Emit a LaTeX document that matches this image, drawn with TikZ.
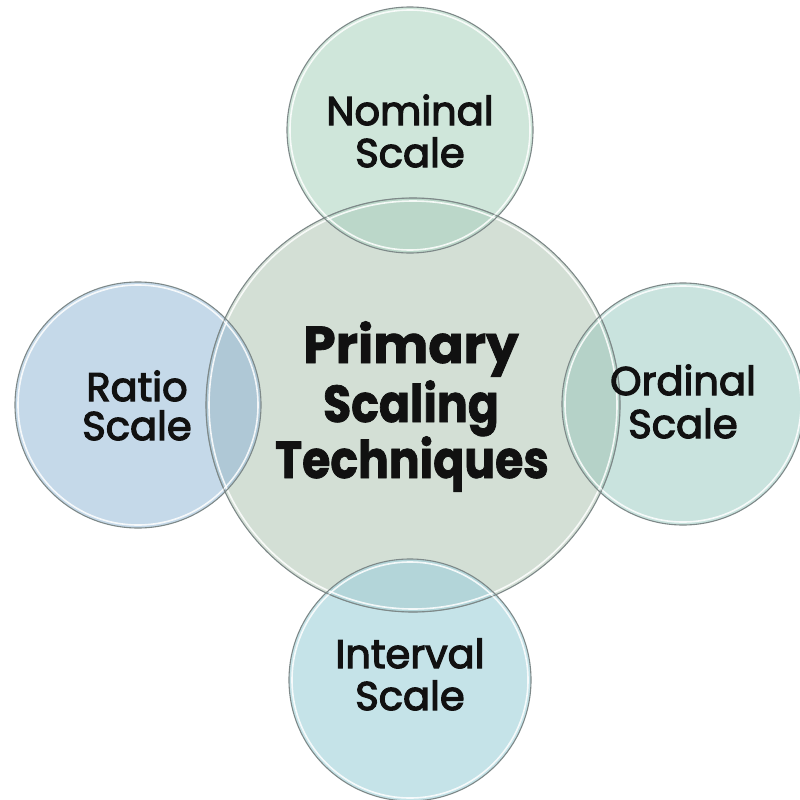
\documentclass[tikz,border=0pt]{standalone}
\usepackage{fontspec}
\setmainfont{Poppins}
\newfontfamily\satfont[FakeBold=3]{Poppins}
\newfontfamily\corefont[FakeBold=1.5]{Poppins Bold}
\definecolor{corefill}{HTML}{D3DFD5}
\definecolor{nomfill}{HTML}{CFE6DA}
\definecolor{nomover}{HTML}{BBD7C9}
\definecolor{ratfill}{HTML}{C5D9E9}
\definecolor{ratover}{HTML}{AFC8D6}
\definecolor{ordfill}{HTML}{C9E3DE}
\definecolor{ordover}{HTML}{B5D2C8}
\definecolor{intfill}{HTML}{C5E3E8}
\definecolor{intover}{HTML}{B3D5D9}
\definecolor{rimgray}{HTML}{7E8989}
\definecolor{txt}{HTML}{111111}
\newcommand{\narrow}[1]{\scalebox{0.88}[1]{#1}}
\begin{document}
\begin{tikzpicture}[x=1pt,y=-1pt,
  disc/.style={circle,inner sep=0pt,outer sep=0pt,minimum size=#1},
  rim/.style={draw=rimgray,line width=1.1pt},
  gloss/.style={draw=white,line width=1.6pt,opacity=0.85},
  lbl/.style={text=txt,anchor=base,inner sep=0pt,font=\satfont\fontsize{40}{42}\selectfont},
  biglbl/.style={text=txt,anchor=base,inner sep=0pt,font=\corefont\fontsize{52}{58}\selectfont}]
\useasboundingbox (0,0) rectangle (800,800);
\fill[white] (0,0) rectangle (800,800);
% central disc
\node[disc=414pt,fill=corefill] (core) at (413,405) {};
% satellites
\node[disc=246pt,fill=nomfill] (nom) at (410,130) {};
\node[disc=246pt,fill=ratfill] (rat) at (138,405) {};
\node[disc=242pt,fill=ordfill] (ord) at (683,404) {};
\node[disc=242pt,fill=intfill] (int) at (410,680) {};
% overlaps
\begin{scope}
  \clip (core.center) circle (207);
  \fill[nomover] (nom.center) circle (123);
  \fill[ratover] (rat.center) circle (123);
  \fill[ordover] (ord.center) circle (121);
  \fill[intover] (int.center) circle (121);
\end{scope}
% rims
\draw[rim] (core.center) circle (207);
\draw[gloss] (core.center) circle (204);
\draw[rim] (nom.center) circle (123);
\draw[gloss] (nom.center) circle (120);
\draw[rim] (rat.center) circle (123);
\draw[gloss] (rat.center) circle (120);
\draw[rim] (ord.center) circle (121);
\draw[gloss] (ord.center) circle (118);
\draw[rim] (int.center) circle (121);
\draw[gloss] (int.center) circle (118);
% central edge showing through satellites
\begin{scope}
  \clip (nom.center) circle (122) (rat.center) circle (122) (ord.center) circle (120) (int.center) circle (120);
  \draw[draw=rimgray,line width=0.8pt,opacity=0.6] (core.center) circle (207);
\end{scope}
% labels
\node[biglbl] (t1) at (411,363) {Primary};
\node[biglbl] (t2) at (411,422) {\narrow{Scaling}};
\node[biglbl] (t3) at (412,478) {\narrow{Techniques}};
\node[lbl] (n1) at (410,125) {Nominal};
\node[lbl] (n2) at (410,167) {Scale};
\node[lbl] (r1) at (137,401) {Ratio};
\node[lbl] (r2) at (137,440) {Scale};
\node[lbl] (o1) at (683,395) {Ordinal};
\node[lbl] (o2) at (683,438) {Scale};
\node[lbl] (i1) at (410,668) {Interval};
\node[lbl] (i2) at (410,710) {Scale};
\end{tikzpicture}
\end{document}
